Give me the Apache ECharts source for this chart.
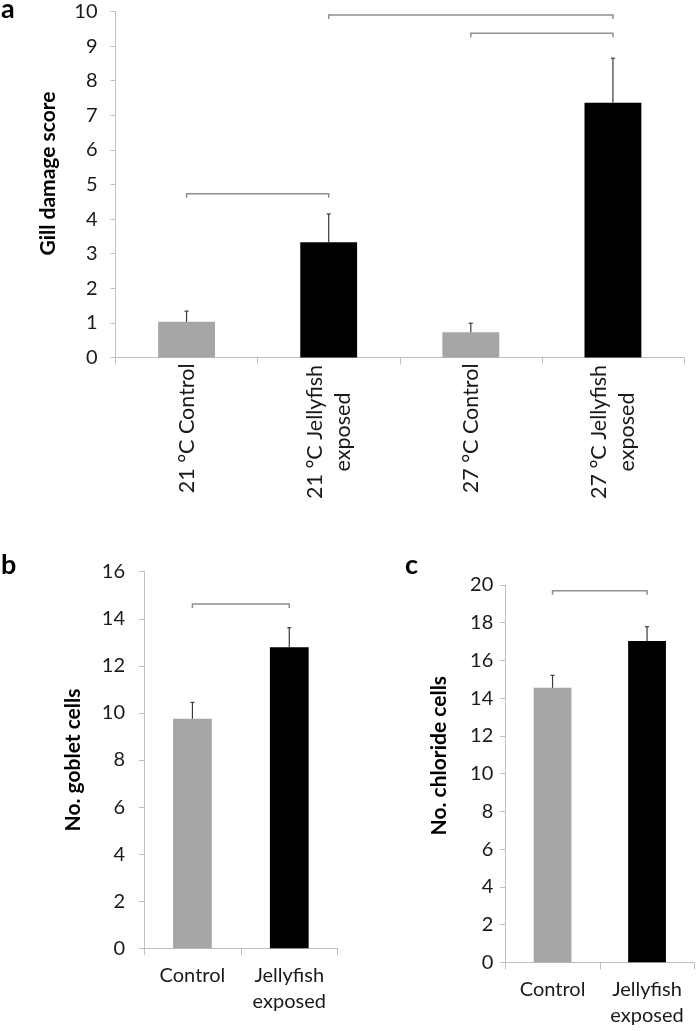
<!DOCTYPE html>
<html><head><meta charset="utf-8">
<script src="https://cdn.jsdelivr.net/npm/echarts@6/dist/echarts.min.js"></script>
<style>html,body{margin:0;padding:0;background:#fff}#c{width:697px;height:1031px}</style>
</head><body><div id="c"></div>
<script>
// ---- Panel a: gill damage score ----
const catsA = ['21 °C Control', '21 °C Jellyfish\nexposed', '27 °C Control', '27 °C Jellyfish\nexposed'];
const meansA = [1.03, 3.33, 0.73, 7.36];
const upperA = [1.34, 4.15, 0.99, 8.65];
const bracketsA = [[0, 1, 4.73], [1, 3, 9.9], [2, 3, 9.37]];
const yMaxA = 10, yStepA = 1;
const yNameA = 'Gill damage score';

// ---- Panel b: goblet cells ----
const catsB = ['Control', 'Jellyfish\nexposed'];
const meansB = [9.75, 12.79];
const upperB = [10.45, 13.62];
const bracketsB = [[0, 1, 14.63]];
const yMaxB = 16, yStepB = 2;
const yNameB = 'No. goblet cells';

// ---- Panel c: chloride cells ----
const catsC = ['Control', 'Jellyfish\nexposed'];
const meansC = [14.55, 17.03];
const upperC = [15.21, 17.79];
const bracketsC = [[0, 1, 19.7]];
const yMaxC = 20, yStepC = 2;
const yNameC = 'No. chloride cells';

const panelLabels = ['a', 'b', 'c'];

const FONT = 'Lato, "Open Sans", sans-serif';
const AXIS_C = '#bfbfbf';
const TXT_C = '#1a1a1a';
const BAR_COLORS = ['#a6a6a6', '#000000'];
const A_LABEL_SIZE = 21.5;

function measure(t, size) {
  const ctx = document.createElement('canvas').getContext('2d');
  ctx.font = size + 'px Lato';
  return ctx.measureText(t).width;
}
const firstLineW = Math.ceil(Math.max(...catsA.filter(c => c.includes('\n')).map(c => measure(c.split('\n')[0], A_LABEL_SIZE)))) + 2;

function errRender(params, api) {
  const x = api.value(0), lo = api.value(1), hi = api.value(2);
  const p0 = api.coord([x, lo]), p1 = api.coord([x, hi]);
  const st = { stroke: '#3a3a3a', lineWidth: 1.2 };
  return { type: 'group', children: [
    { type: 'line', shape: { x1: p0[0], y1: p0[1], x2: p1[0], y2: p1[1] }, style: st },
    { type: 'line', shape: { x1: p1[0] - 2, y1: p1[1], x2: p1[0] + 2, y2: p1[1] }, style: st }
  ]};
}
function brRender(params, api) {
  const a = api.value(0), b = api.value(1), y = api.value(2);
  const p0 = api.coord([a, y]), p1 = api.coord([b, y]);
  return { type: 'polyline', shape: { points: [[p0[0], p0[1] + 4], [p0[0], p0[1]], [p1[0], p1[1]], [p1[0], p1[1] + 4]] },
    style: { stroke: '#8f8f8f', lineWidth: 1.5, fill: null } };
}

function xAxis(gi, cats, label) {
  return { type: 'category', gridIndex: gi, data: cats,
    axisLine: { show: true, lineStyle: { color: AXIS_C, width: 1 } },
    axisTick: { show: true, length: 7, interval: 0, lineStyle: { color: AXIS_C } },
    axisLabel: Object.assign({ interval: 0, fontFamily: FONT, fontSize: 20, color: TXT_C }, label) };
}
function yAxis(gi, max, step, name, margin, nameGap, namePad) {
  return { type: 'value', gridIndex: gi, min: 0, max: max, interval: step,
    name: name, nameLocation: 'middle', nameGap: nameGap,
    nameTextStyle: { fontFamily: FONT, fontSize: 21, fontWeight: 'bold', color: '#000', padding: namePad },
    axisLine: { show: true, lineStyle: { color: AXIS_C, width: 1 } },
    axisTick: { show: true, length: 5, lineStyle: { color: AXIS_C } },
    splitLine: { show: false },
    axisLabel: { fontFamily: FONT, fontSize: 20, color: TXT_C, margin: margin } };
}
function barSeries(gi, means) {
  return { type: 'bar', xAxisIndex: gi, yAxisIndex: gi, barWidth: '40%',
    data: means.map((v, i) => ({ value: v, itemStyle: { color: BAR_COLORS[i % 2] } })),
    silent: true, animation: false };
}
function errSeries(gi, means, upper) {
  return { type: 'custom', xAxisIndex: gi, yAxisIndex: gi, renderItem: errRender,
    encode: { x: 0, y: [1, 2] }, data: means.map((v, i) => [i, v, upper[i]]), silent: true, animation: false, z: 3 };
}
function brSeries(gi, brs) {
  return { type: 'custom', xAxisIndex: gi, yAxisIndex: gi, renderItem: brRender,
    encode: { x: [0, 1], y: 2 }, data: brs, silent: true, animation: false, z: 3 };
}

const chart = echarts.init(document.getElementById('c'), null, { renderer: 'canvas' });
chart.setOption({
  animation: false,
  backgroundColor: '#fff',
  title: [
    { text: panelLabels[0], left: 1, top: -4, padding: 0, textStyle: { fontFamily: FONT, fontSize: 27, fontWeight: 'bold', color: '#000' } },
    { text: panelLabels[1], left: 1, top: 552, padding: 0, textStyle: { fontFamily: FONT, fontSize: 27, fontWeight: 'bold', color: '#000' } },
    { text: panelLabels[2], left: 405, top: 552, padding: 0, textStyle: { fontFamily: FONT, fontSize: 27, fontWeight: 'bold', color: '#000' } }
  ],
  grid: [
    { left: 115.5, top: 11.5, width: 568.5, height: 346, outerBoundsMode: 'none' },
    { left: 144, top: 571.7, width: 193.7, height: 376.6, outerBoundsMode: 'none' },
    { left: 505.3, top: 585, width: 189, height: 377.3, outerBoundsMode: 'none' }
  ],
  xAxis: [
    xAxis(0, catsA, { rotate: 90, margin: 6, lineHeight: 28, fontSize: A_LABEL_SIZE,
      formatter: v => v.includes('\n') ? v.split('\n').map(l => '{c|' + l + '}').join('\n') : v,
      rich: { c: { width: firstLineW, align: 'center', fontFamily: FONT, fontSize: A_LABEL_SIZE, lineHeight: 28, color: TXT_C } } }),
    xAxis(1, catsB, { margin: 14, lineHeight: 26 }),
    xAxis(2, catsC, { margin: 14, lineHeight: 26 })
  ],
  yAxis: [
    yAxis(0, yMaxA, yStepA, yNameA, 18, 57, [0, 0, 0, 22]),
    yAxis(1, yMaxB, yStepB, yNameB, 19, 60, 0),
    yAxis(2, yMaxC, yStepC, yNameC, 12, 56, [0, 0, 0, 36])
  ],
  series: [
    barSeries(0, meansA), errSeries(0, meansA, upperA), brSeries(0, bracketsA),
    barSeries(1, meansB), errSeries(1, meansB, upperB), brSeries(1, bracketsB),
    barSeries(2, meansC), errSeries(2, meansC, upperC), brSeries(2, bracketsC)
  ]
});
</script>
</body></html>
